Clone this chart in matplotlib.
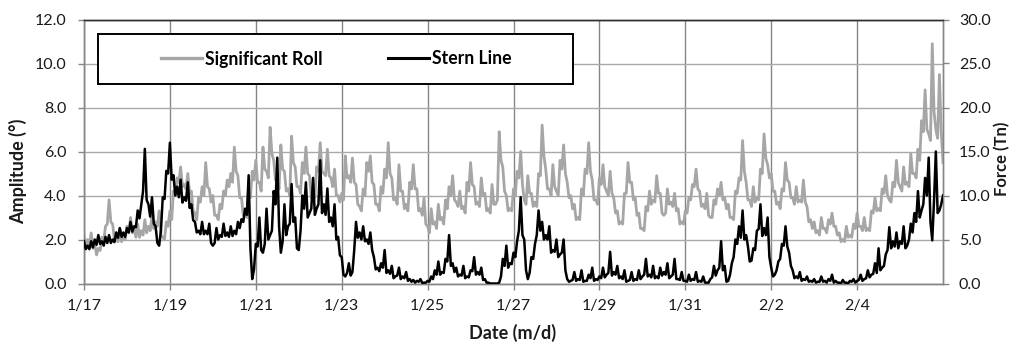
import numpy as np
import matplotlib
matplotlib.use("Agg")
import matplotlib.pyplot as plt
from matplotlib.patches import Rectangle
from matplotlib.lines import Line2D

# Mooring record, hourly samples starting 1/17 00:00 (one row per day)
roll_deg = [
    2.2, 1.6, 2.0, 1.7, 2.3, 1.6, 1.8, 1.3, 1.6, 1.5, 2.1, 1.9, 2.6, 2.7, 3.8, 2.8, 2.7, 2.0, 2.2, 1.9, 2.5, 1.9, 2.2, 2.0,  # 1/17
    2.6, 2.3, 3.0, 2.3, 2.5, 2.1, 2.7, 2.1, 2.4, 2.2, 2.9, 2.3, 2.6, 2.4, 3.1, 2.5, 2.8, 2.6, 3.3, 2.2, 2.1, 2.0, 2.8, 2.6,  # 1/18
    3.3, 2.9, 4.2, 4.0, 4.8, 4.6, 5.3, 4.4, 4.5, 4.3, 5.0, 4.1, 4.2, 3.3, 3.2, 2.9, 3.9, 3.7, 4.4, 4.0, 5.5, 4.4, 4.3, 3.7,  # 1/19
    4.0, 3.1, 3.1, 2.9, 3.6, 3.4, 4.2, 4.0, 4.7, 4.4, 5.0, 4.6, 6.2, 5.1, 4.9, 3.9, 3.9, 3.1, 3.3, 3.0, 4.2, 3.9, 5.1, 4.7,  # 1/20
    5.6, 4.6, 4.6, 4.2, 6.2, 5.2, 5.1, 4.8, 7.1, 5.9, 5.6, 4.7, 4.7, 4.3, 6.3, 5.2, 5.1, 4.2, 4.3, 4.0, 6.7, 5.5, 5.3, 4.4,  # 1/21
    4.4, 4.1, 5.5, 5.0, 6.2, 5.0, 4.9, 3.9, 4.1, 3.9, 5.3, 5.1, 6.4, 5.1, 5.0, 4.9, 6.1, 4.9, 4.8, 4.4, 5.2, 4.0, 4.0, 3.7,  # 1/22
    4.1, 3.8, 5.8, 4.8, 4.9, 4.6, 5.7, 4.6, 4.5, 3.6, 3.5, 3.3, 4.3, 4.0, 5.5, 5.1, 5.8, 4.6, 4.5, 3.6, 3.6, 3.3, 4.4, 4.1,  # 1/23
    5.2, 4.8, 6.4, 5.0, 4.8, 3.8, 3.9, 3.6, 5.4, 4.2, 4.2, 3.4, 3.6, 3.3, 4.6, 4.3, 5.4, 4.3, 4.3, 3.3, 3.4, 3.1, 3.9, 2.7,  # 1/24
    2.6, 2.3, 3.4, 2.7, 2.8, 2.5, 3.6, 2.9, 3.0, 2.7, 3.8, 3.4, 4.4, 4.0, 4.9, 3.8, 3.7, 3.5, 4.2, 3.4, 3.5, 3.2, 4.6, 4.2,  # 1/25
    5.5, 4.5, 4.4, 3.6, 3.7, 3.5, 4.8, 4.0, 4.1, 3.3, 3.4, 3.2, 4.5, 3.6, 3.6, 3.8, 6.9, 5.6, 5.3, 4.2, 4.0, 3.3, 3.4, 3.3,  # 1/26
    4.3, 4.0, 5.1, 4.8, 6.0, 4.5, 3.8, 3.6, 4.9, 4.1, 4.1, 3.5, 3.7, 3.5, 5.0, 4.9, 7.2, 5.8, 5.2, 4.3, 4.3, 4.0, 5.4, 4.4,  # 1/27
    4.2, 4.0, 5.6, 5.2, 6.3, 5.0, 4.6, 3.9, 4.0, 3.4, 3.6, 2.9, 3.0, 2.9, 4.3, 4.0, 5.2, 5.0, 6.4, 5.1, 4.7, 3.8, 3.8, 3.6,  # 1/28
    4.8, 4.5, 5.4, 4.4, 4.2, 4.0, 5.1, 4.1, 3.9, 3.2, 3.3, 2.7, 2.8, 2.7, 4.1, 4.1, 5.5, 4.6, 4.6, 3.8, 3.9, 3.1, 3.2, 2.5,  # 1/29
    2.5, 2.4, 3.5, 3.3, 4.2, 3.6, 3.8, 3.7, 4.9, 4.1, 4.1, 3.2, 3.1, 3.2, 4.3, 3.6, 3.7, 3.5, 4.1, 3.3, 3.4, 2.7, 2.8, 2.7,  # 1/30
    3.3, 3.2, 3.9, 3.8, 4.5, 4.4, 5.2, 4.3, 4.2, 3.5, 3.6, 3.4, 4.1, 3.1, 3.0, 3.0, 3.8, 3.6, 4.3, 4.0, 4.6, 3.8, 3.9, 3.4,  # 1/31
    3.6, 3.0, 3.0, 2.9, 4.2, 4.1, 4.8, 4.7, 6.5, 5.1, 4.6, 3.8, 3.8, 3.5, 4.4, 3.7, 3.9, 3.8, 5.2, 5.0, 6.8, 5.7, 5.4, 4.8,  # 2/1
    5.0, 4.2, 4.2, 3.6, 3.7, 3.4, 4.3, 4.2, 5.5, 4.7, 4.6, 3.9, 3.9, 3.6, 4.4, 3.7, 3.8, 3.7, 4.7, 3.7, 3.5, 2.8, 2.9, 2.5,  # 2/2
    2.8, 2.3, 2.4, 2.2, 3.0, 2.5, 2.5, 2.3, 2.9, 2.7, 3.2, 2.6, 2.6, 2.2, 2.3, 1.9, 2.0, 1.9, 2.6, 2.1, 2.2, 2.1, 2.7, 2.5,  # 2/3
    3.2, 2.6, 2.6, 2.4, 3.0, 2.4, 2.5, 2.4, 3.3, 3.2, 3.9, 3.3, 3.4, 3.3, 4.3, 4.1, 4.9, 4.0, 3.8, 3.7, 4.6, 4.4, 5.6, 4.6,  # 2/4
    4.4, 4.2, 5.3, 4.5, 4.6, 4.4, 5.9, 5.0, 5.0, 4.8, 6.1, 5.6, 7.4, 6.9, 8.8, 7.0, 6.8, 6.5, 10.9, 7.8, 7.0, 6.6, 9.5, 6.9,  # 2/5
    5.5,  # 2/6
]

stern_tn = [
    4.8, 3.9, 4.3, 3.9, 4.8, 4.1, 5.0, 4.4, 5.5, 4.5, 4.8, 4.3, 5.3, 4.6, 5.5, 4.6, 5.0, 4.7, 5.8, 5.2, 6.3, 5.3, 5.8, 5.3,  # 1/17
    6.3, 5.8, 7.0, 5.9, 6.5, 6.4, 8.3, 7.4, 9.0, 10.5, 15.3, 9.5, 9.0, 7.6, 9.8, 6.8, 6.5, 4.6, 4.3, 6.0, 9.8, 9.6, 12.8, 12.5,  # 1/18
    16.0, 11.8, 12.3, 10.0, 11.0, 9.8, 11.8, 9.2, 9.8, 9.4, 11.5, 8.6, 9.0, 7.2, 7.0, 5.8, 6.0, 5.6, 7.0, 5.6, 6.0, 5.6, 6.8, 4.6,  # 1/19
    4.3, 4.6, 6.3, 5.0, 5.5, 5.3, 6.8, 5.4, 5.8, 5.3, 6.5, 5.4, 6.0, 5.6, 7.0, 6.3, 7.3, 7.0, 8.5, 7.8, 12.3, 4.0, 0.5, 1.6,  # 1/20
    4.5, 4.2, 7.5, 3.8, 3.5, 4.5, 8.5, 5.0, 5.5, 6.0, 10.5, 9.0, 14.3, 6.5, 3.5, 4.8, 9.0, 5.5, 6.5, 6.8, 11.3, 7.0, 7.5, 4.0,  # 1/21
    3.8, 6.0, 10.0, 8.5, 11.5, 7.5, 8.0, 8.5, 12.0, 7.8, 8.5, 9.0, 14.0, 8.0, 9.0, 7.8, 10.8, 7.0, 7.5, 6.5, 9.0, 5.0, 5.3, 3.2,  # 1/22
    3.0, 1.0, 0.8, 1.2, 2.3, 0.9, 1.3, 3.8, 7.0, 5.2, 5.8, 5.0, 6.5, 4.8, 5.0, 4.5, 5.8, 3.8, 3.0, 1.6, 1.8, 1.4, 2.3, 1.8,  # 1/23
    3.8, 1.2, 1.5, 1.1, 2.0, 0.6, 0.8, 0.9, 1.8, 0.5, 0.8, 0.6, 1.3, 0.3, 0.5, 0.2, 0.4, 0.1, 0.3, 0.2, 0.5, 0.05, 0.1, 0.1,  # 1/24
    0.3, 0.2, 0.8, 0.5, 1.5, 1.0, 2.5, 1.0, 1.3, 1.2, 2.8, 2.5, 5.5, 2.0, 2.3, 1.3, 1.8, 0.8, 1.0, 0.9, 2.0, 0.6, 0.8, 0.7,  # 1/25
    1.5, 1.4, 3.0, 1.0, 1.3, 1.0, 1.8, 0.4, 0.5, 0.1, 0.1, 0.0, 0.0, 0.0, 0.0, 0.0, 0.1, 0.8, 2.8, 2.0, 4.3, 1.8, 2.3, 2.2,  # 1/26
    3.5, 3.0, 4.8, 6.0, 9.8, 5.5, 5.0, 1.5, 0.5, 1.2, 3.0, 2.8, 4.5, 5.5, 8.3, 6.0, 7.0, 5.0, 5.5, 5.0, 6.5, 3.5, 3.8, 3.6,  # 1/27
    5.0, 3.0, 3.3, 3.5, 5.0, 1.5, 0.5, 0.2, 0.3, 0.4, 1.3, 0.3, 0.5, 0.4, 1.5, 0.2, 0.3, 0.3, 1.0, 0.6, 1.8, 0.3, 0.5, 0.4,  # 1/28
    0.8, 0.6, 1.8, 0.7, 1.0, 1.2, 3.6, 0.9, 1.3, 1.0, 2.0, 0.6, 0.8, 0.5, 1.5, 0.2, 0.3, 0.4, 1.3, 0.3, 0.5, 0.4, 1.5, 0.5,  # 1/29
    0.8, 1.0, 2.8, 0.8, 1.0, 0.7, 2.0, 0.6, 0.8, 0.6, 1.8, 0.9, 1.3, 1.0, 2.3, 0.6, 0.8, 1.0, 2.8, 0.5, 0.5, 0.4, 1.3, 0.3,  # 1/30
    0.3, 0.2, 1.0, 0.3, 0.5, 0.4, 1.3, 0.2, 0.3, 0.2, 0.8, 0.1, 0.1, 0.1, 0.5, 0.7, 2.0, 0.9, 1.5, 1.8, 4.8, 1.5, 2.0, 0.2,  # 1/31
    0.3, 1.0, 2.3, 3.0, 5.0, 4.5, 6.5, 5.2, 8.3, 5.0, 5.5, 4.2, 2.5, 2.6, 4.0, 3.8, 6.0, 6.2, 9.0, 5.4, 6.3, 5.5, 7.5, 3.0,  # 2/1
    1.8, 0.8, 1.0, 1.5, 2.5, 2.8, 4.5, 4.3, 6.5, 4.2, 3.5, 2.0, 1.5, 0.6, 0.8, 0.6, 1.3, 0.3, 0.5, 0.4, 0.8, 0.2, 0.3, 0.2,  # 2/2
    0.5, 0.1, 0.2, 0.2, 0.8, 0.2, 0.3, 0.1, 0.5, 0.3, 1.0, 0.1, 0.3, 0.1, 0.1, 0.0, 0.4, 0.1, 0.1, 0.0, 0.3, 0.2, 0.5, 0.1,  # 2/3
    0.3, 0.4, 1.0, 0.3, 0.5, 0.6, 1.5, 0.7, 1.0, 1.1, 2.3, 1.2, 4.0, 1.5, 1.8, 2.0, 3.3, 3.8, 6.4, 4.0, 4.8, 4.2, 5.8, 4.0,  # 2/4
    4.8, 4.5, 6.5, 4.0, 4.3, 5.0, 6.8, 5.8, 8.0, 7.0, 10.5, 7.5, 8.3, 9.0, 12.0, 10.0, 14.3, 7.0, 4.9, 9.5, 15.0, 8.0, 8.3, 9.0,  # 2/5
    10.0,  # 2/6
]

date_ticks = [0, 2, 4, 6, 8, 10, 12, 14, 16, 18]
date_labels = ["1/17", "1/19", "1/21", "1/23", "1/25", "1/27", "1/29", "1/31", "2/2", "2/4"]
amp_ticks = [0, 2, 4, 6, 8, 10, 12]
force_ticks = [0, 5, 10, 15, 20, 25, 30]

FONT = ["Lato", "DejaVu Sans"]
plt.rcParams["font.family"] = FONT

GRAY = "#a6a6a6"
AXIS_GRAY = "#868686"
TXT = "#1a1a1a"

days = np.arange(len(roll_deg)) / 24.0

W, H = 1011, 345
fig = plt.figure(figsize=(W / 100, H / 100), dpi=100)
L, R, T, B = 84, 943, 19.5, 283.5
ax = fig.add_axes([L / W, 1 - B / H, (R - L) / W, (B - T) / H])
ax2 = ax.twinx()

ax.plot(days, roll_deg, color=GRAY, lw=2.0, zorder=3)
ax2.plot(days, stern_tn, color="black", lw=1.8, zorder=3)

ax.set_xlim(0, 20)
ax.set_ylim(0, 12)
ax2.set_ylim(0, 30)

ax.set_xticks(date_ticks)
ax.set_xticklabels(date_labels)
ax.set_yticks(amp_ticks)
ax.set_yticklabels([f"{v:.1f}" for v in amp_ticks])
ax2.set_yticks(force_ticks)
ax2.set_yticklabels([f"{v:.1f}" for v in force_ticks])

ax.set_axisbelow(True)
ax.grid(axis="y", color="#a9a9a9", lw=1.0)
ax.grid(axis="x", color="#858585", lw=1.0)

for a in (ax, ax2):
    for side in ("left", "right", "bottom"):
        a.spines[side].set_color(AXIS_GRAY)
        a.spines[side].set_linewidth(1.0)
    a.spines["top"].set_color("#303030")
    a.spines["top"].set_linewidth(1.0)

ax.tick_params(axis="both", direction="out", color=AXIS_GRAY, labelcolor=TXT,
               labelsize=11.5, length=4.5, width=1.0)
ax.tick_params(axis="x", pad=7)
ax.tick_params(axis="y", pad=8)
ax2.tick_params(axis="y", direction="out", color=AXIS_GRAY, labelcolor=TXT,
                labelsize=11.5, length=4.5, width=1.0, pad=7)

# legend frame and entries
bx0, by0 = (98 - L) / (R - L), (B - 84) / (B - T)
bw, bh = (573 - 98) / (R - L), 50 / (B - T)
ax2.add_patch(Rectangle((bx0, by0), bw, bh, transform=ax2.transAxes,
                        facecolor="white", edgecolor="black", lw=1.4, zorder=5))
handles = [Line2D([], [], color=GRAY, lw=2.4), Line2D([], [], color="black", lw=2.2)]
leg = ax2.legend(handles, ["Significant Roll", "Stern Line"], ncol=2, frameon=False,
                 loc="center", bbox_to_anchor=(bx0 + bw / 2 + 0.001, by0 + bh / 2),
                 bbox_transform=ax2.transAxes,
                 prop={"family": FONT, "weight": "bold", "size": 12.7},
                 handlelength=2.3, handletextpad=0.2, columnspacing=3.7)
leg.set_zorder(6)

lab = dict(fontsize=13, fontweight="bold", color=TXT, family=FONT)
fig.text(18 / W, 1 - 171 / H, "Amplitude (°)", rotation=90, ha="center", va="center", **lab)
fig.text(1002 / W, 1 - 159 / H, "Force (Tn)", rotation=90, ha="center", va="center",
         **{**lab, "fontsize": 12})
fig.text(513 / W, 1 - 333 / H, "Date (m/d)", ha="center", va="center", **lab)

fig.savefig("out.png", dpi=100)
